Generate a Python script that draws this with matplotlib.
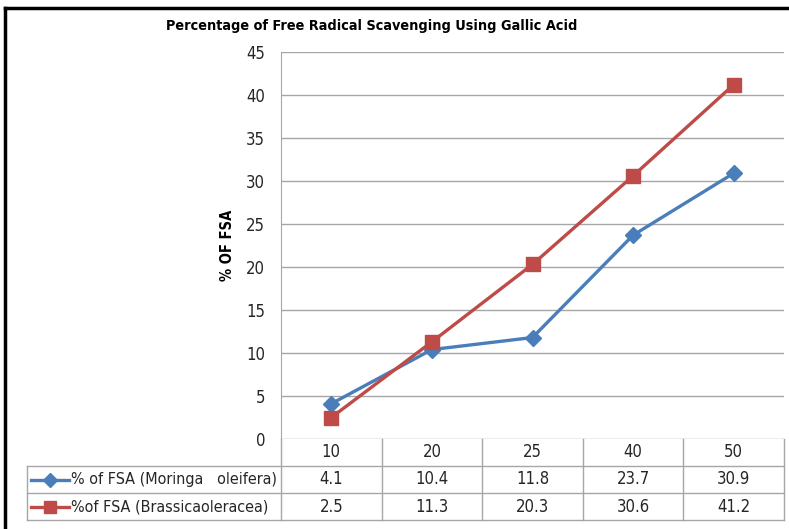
import matplotlib
matplotlib.use("Agg")
import matplotlib.pyplot as plt
import matplotlib.transforms as mtransforms
from matplotlib.lines import Line2D

plt.rcParams['font.family'] = ['DejaVu Sans']
plt.rcParams['font.stretch'] = 'condensed'

concentrations = ['10', '20', '25', '40', '50']
moringa = [4.1, 10.4, 11.8, 23.7, 30.9]
brassica = [2.5, 11.3, 20.3, 30.6, 41.2]
series_names = ['% of FSA (Moringa   oleifera)', '%of FSA (Brassicaoleracea)']
yticks = [0, 5, 10, 15, 20, 25, 30, 35, 40, 45]

W, H = 789, 529
blue = '#4A7EBB'
red = '#BE4B48'
grid = '#A6A6A6'
txt = '#262626'

fig = plt.figure(figsize=(W / 100, H / 100), dpi=100)


def fy(py):
    return 1 - py / H


ax = fig.add_axes([281 / W, fy(439), (784 - 281) / W, (439 - 52) / H])
x = list(range(len(concentrations)))
ax.plot(x, moringa, color=blue, lw=2.4, marker='D', ms=8, zorder=3)
ax.plot(x, brassica, color=red, lw=2.4, marker='s', ms=10, zorder=3)
ax.set_xlim(-0.5, len(x) - 0.5)
ax.set_ylim(0, 45)
ax.set_yticks(yticks)
ax.set_xticks([])
ax.grid(axis='y', color=grid, lw=1)
ax.set_axisbelow(True)
for s in ['top', 'right', 'bottom']:
    ax.spines[s].set_visible(False)
ax.spines['left'].set_color(grid)
ax.tick_params(axis='y', length=0, labelsize=12, labelcolor=txt, pad=11.5)
ax.set_ylabel('% OF FSA', fontsize=10.5, fontweight='bold', labelpad=8)

fig.text(372 / W, fy(26), 'Percentage of Free Radical Scavenging Using Gallic Acid',
         ha='center', va='center', fontsize=10.4, fontweight='bold')

# data table under the axes
tr = mtransforms.blended_transform_factory(ax.transData, fig.transFigure)
edges = [i - 0.5 for i in range(len(x) + 1)]
for e in edges:
    fig.add_artist(Line2D([e, e], [fy(439), fy(520)], color=grid, lw=1, transform=tr))
for py in [466, 493, 520]:
    fig.add_artist(Line2D([27 / W, 784 / W], [fy(py), fy(py)], color=grid, lw=1,
                          transform=fig.transFigure))
fig.add_artist(Line2D([27 / W, 27 / W], [fy(466), fy(520)], color=grid, lw=1,
                      transform=fig.transFigure))

for i, c in enumerate(concentrations):
    fig.text(i, fy(452), c, transform=tr, ha='center', va='center', fontsize=12, color=txt)
rows = [(moringa, blue, 'D', 7, 479.5), (brassica, red, 's', 9, 506.5)]
for (vals, col, mk, ms, py), name in zip(rows, series_names):
    for i, v in enumerate(vals):
        fig.text(i, fy(py), f'{v}', transform=tr, ha='center', va='center',
                 fontsize=12, color=txt)
    fig.add_artist(Line2D([31 / W, 69 / W], [fy(py), fy(py)], color=col, lw=2.4,
                          transform=fig.transFigure))
    fig.add_artist(Line2D([50 / W], [fy(py)], color=col, marker=mk, ms=ms, lw=0,
                          transform=fig.transFigure))
    fig.text(71 / W, fy(py), name, ha='left', va='center', fontsize=11.5, color=txt)

# outer chart border
fig.add_artist(Line2D([4.5 / W, 4.5 / W], [0, fy(8)], color='black', lw=2.5,
                      transform=fig.transFigure))
fig.add_artist(Line2D([4.5 / W, 1], [fy(8), fy(8)], color='black', lw=2.5,
                      transform=fig.transFigure))

fig.savefig('out.png', dpi=100)
